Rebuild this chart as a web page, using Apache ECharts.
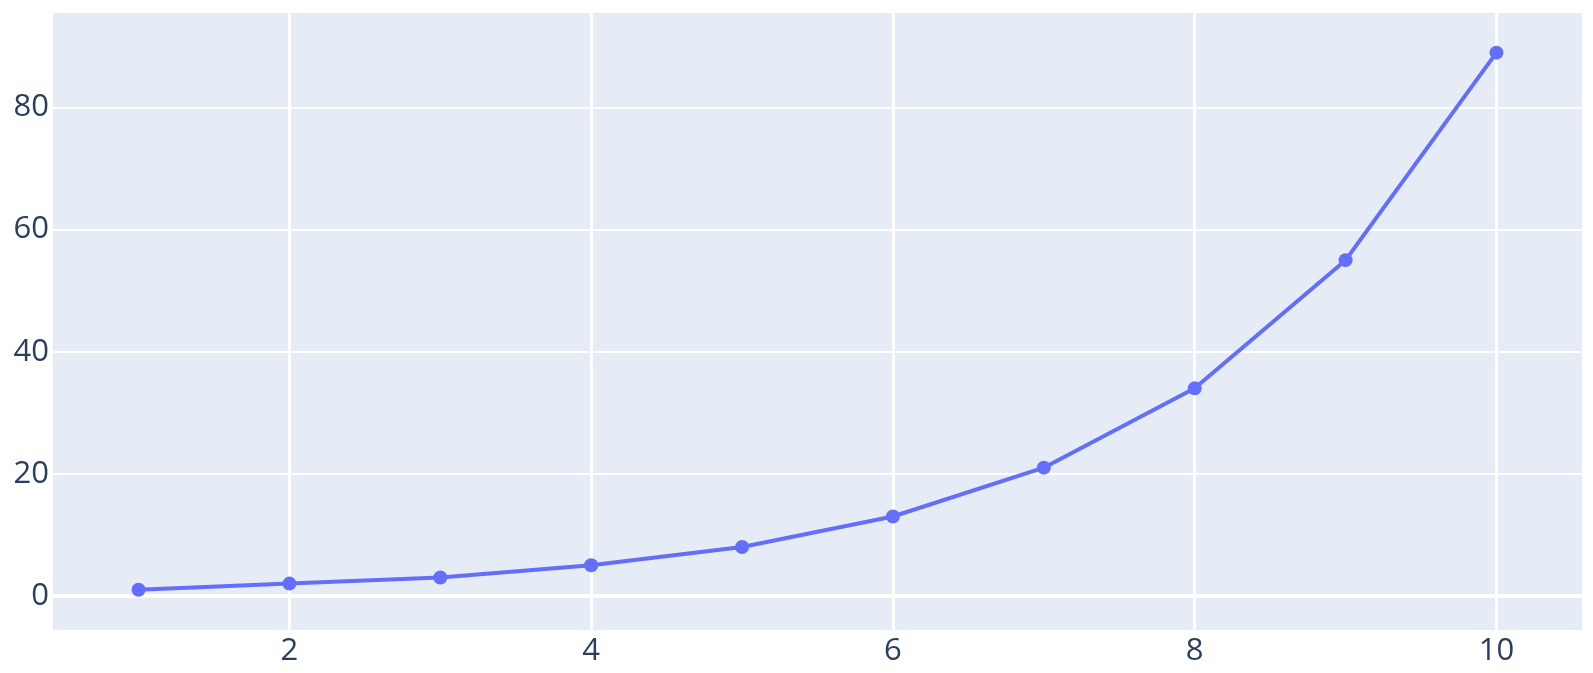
<!DOCTYPE html>
<html>
<head>
<meta charset="utf-8">
<script src="https://cdn.jsdelivr.net/npm/echarts@6/dist/echarts.min.js"></script>
<style>html,body{margin:0;padding:0;background:#fff;}#c{width:1593px;height:673px;}</style>
</head>
<body>
<div id="c"></div>
<script>
const xValues = [1, 2, 3, 4, 5, 6, 7, 8, 9, 10];
const yValues = [1, 2, 3, 5, 8, 13, 21, 34, 55, 89];
const xTicks = [2, 4, 6, 8, 10];
const yTicks = [0, 20, 40, 60, 80];

const chart = echarts.init(document.getElementById('c'));
const font = { fontFamily: 'Open Sans', fontSize: 31, color: '#2a3f5f' };
chart.setOption({
  animation: false,
  backgroundColor: '#ffffff',
  grid: { left: 53, top: 13, width: 1529, height: 617, containLabel: false, show: true, backgroundColor: '#E5ECF6', borderWidth: 0 },
  xAxis: {
    type: 'value', min: 0.433, max: 10.567,
    axisLine: { show: false },
    axisTick: { show: false, customValues: xTicks },
    axisLabel: Object.assign({ customValues: xTicks, margin: 6 }, font),
    splitLine: { show: true, lineStyle: { color: '#ffffff', width: 3 } }
  },
  yAxis: {
    type: 'value', min: -5.6, max: 95.5,
    axisLine: { show: false },
    axisTick: { show: false, customValues: yTicks },
    axisLabel: Object.assign({ customValues: yTicks, margin: 4 }, font),
    splitLine: { show: true, lineStyle: { color: '#ffffff', width: 2 } }
  },
  series: [{
    type: 'line',
    data: xValues.map((x, i) => [x, yValues[i]]),
    symbol: 'circle', symbolSize: 14, showSymbol: true,
    lineStyle: { color: '#636EFA', width: 4 },
    itemStyle: { color: '#636EFA' },
    markLine: {
      silent: true, symbol: 'none', z: 1,
      label: { show: false },
      lineStyle: { color: '#ffffff', width: 4, type: 'solid' },
      data: [{ yAxis: 0 }]
    }
  }]
});
</script>
</body>
</html>
